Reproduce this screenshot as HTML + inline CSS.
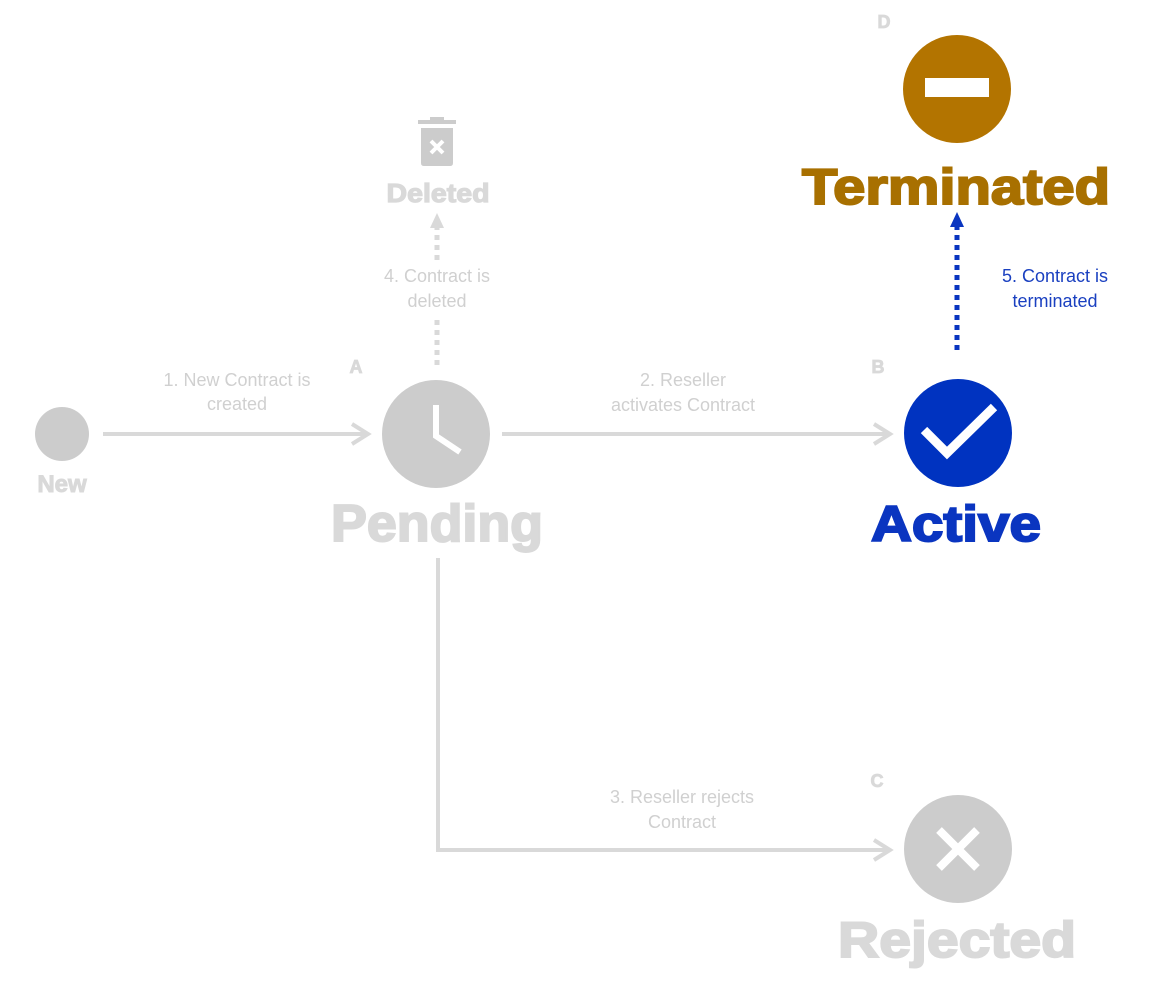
<!DOCTYPE html>
<html><head><style>body{margin:0;background:#fff}svg{display:block}</style></head><body>
<svg width="1151" height="1007" viewBox="0 0 1151 1007" xmlns="http://www.w3.org/2000/svg" font-family="Liberation Sans, Arial, sans-serif">
<g fill="none" stroke-linecap="butt">
<line x1="103" y1="434" x2="366" y2="434" stroke="#d9d9d9" stroke-width="4"/>
<polyline points="352,424 368,434 352,444" stroke="#d9d9d9" stroke-width="4"/>
<line x1="502" y1="434" x2="888" y2="434" stroke="#d9d9d9" stroke-width="4"/>
<polyline points="874,424 890,434 874,444" stroke="#d9d9d9" stroke-width="4"/>
<polyline points="438,558 438,850 888,850" stroke="#d9d9d9" stroke-width="4"/>
<polyline points="874,840 890,850 874,860" stroke="#d9d9d9" stroke-width="4"/>
<line x1="437" y1="365" x2="437" y2="318" stroke="#d9d9d9" stroke-width="5" stroke-dasharray="5,5"/>
<line x1="437" y1="260" x2="437" y2="225" stroke="#d9d9d9" stroke-width="5" stroke-dasharray="5,5"/>
<line x1="957" y1="350" x2="957" y2="225" stroke="#0a35c0" stroke-width="5" stroke-dasharray="5,5"/>
</g>
<polygon points="430,228 437,213 444,228" fill="#d9d9d9"/>
<polygon points="950,227 957,212 964,227" fill="#0a35c0"/>

<circle cx="62" cy="434" r="27" fill="#cccccc"/>
<text x="62" y="492" font-size="24" font-weight="bold" fill="#d9d9d9" stroke="#d9d9d9" stroke-width="1" text-anchor="middle">New</text>

<circle cx="436" cy="434" r="54" fill="#cccccc"/>
<polyline points="436,405 436,436 460,452" fill="none" stroke="#fff" stroke-width="6"/>
<text x="437" y="541" font-size="52" font-weight="bold" fill="#d9d9d9" stroke="#d9d9d9" stroke-width="2" text-anchor="middle" textLength="212" lengthAdjust="spacingAndGlyphs">Pending</text>
<text x="356" y="373" font-size="18" font-weight="bold" fill="#d9d9d9" stroke="#d9d9d9" stroke-width="0.8" text-anchor="middle">A</text>

<rect x="418" y="120" width="38" height="4" fill="#cccccc"/>
<rect x="430" y="117" width="14" height="4" fill="#cccccc"/>
<path d="M421,128 H453 V163 Q453,166 450,166 H424 Q421,166 421,163 Z" fill="#cccccc"/>
<path d="M431,141 L443,153 M443,141 L431,153" stroke="#fff" stroke-width="4"/>
<text x="438" y="202" font-size="26" font-weight="bold" fill="#d9d9d9" stroke="#d9d9d9" stroke-width="1.2" text-anchor="middle" textLength="103" lengthAdjust="spacingAndGlyphs">Deleted</text>

<circle cx="958" cy="433" r="54" fill="#0033c0"/>
<polyline points="924,430 947,453 994,407" fill="none" stroke="#fff" stroke-width="9"/>
<text x="956" y="541" font-size="50" font-weight="bold" fill="#0a35c0" stroke="#0a35c0" stroke-width="2" text-anchor="middle" textLength="170" lengthAdjust="spacingAndGlyphs">Active</text>
<text x="878" y="373" font-size="18" font-weight="bold" fill="#d9d9d9" stroke="#d9d9d9" stroke-width="0.8" text-anchor="middle">B</text>

<circle cx="957" cy="89" r="54" fill="#b37400"/>
<rect x="925" y="78" width="64" height="19" fill="#fff"/>
<text x="956" y="204" font-size="50" font-weight="bold" fill="#a87000" stroke="#a87000" stroke-width="2" text-anchor="middle" textLength="308" lengthAdjust="spacingAndGlyphs">Terminated</text>
<text x="884" y="28" font-size="18" font-weight="bold" fill="#d9d9d9" stroke="#d9d9d9" stroke-width="0.8" text-anchor="middle">D</text>

<circle cx="958" cy="849" r="54" fill="#cccccc"/>
<path d="M939,830 L977,868 M977,830 L939,868" stroke="#fff" stroke-width="8"/>
<text x="957" y="957" font-size="50" font-weight="bold" fill="#d9d9d9" stroke="#d9d9d9" stroke-width="2" text-anchor="middle" textLength="238" lengthAdjust="spacingAndGlyphs">Rejected</text>
<text x="877" y="787" font-size="18" font-weight="bold" fill="#d9d9d9" stroke="#d9d9d9" stroke-width="0.8" text-anchor="middle">C</text>

<g font-size="18" fill="#d0d0d0" text-anchor="middle">
<text x="237" y="386">1. New Contract is</text><text x="237" y="410">created</text>
<text x="683" y="386">2. Reseller</text><text x="683" y="411">activates Contract</text>
<text x="682" y="803">3. Reseller rejects</text><text x="682" y="828">Contract</text>
<text x="437" y="282">4. Contract is</text><text x="437" y="307">deleted</text>
</g>
<g font-size="18" fill="#1a40c0" text-anchor="middle">
<text x="1055" y="282">5. Contract is</text><text x="1055" y="307">terminated</text>
</g>
</svg>
</body></html>
